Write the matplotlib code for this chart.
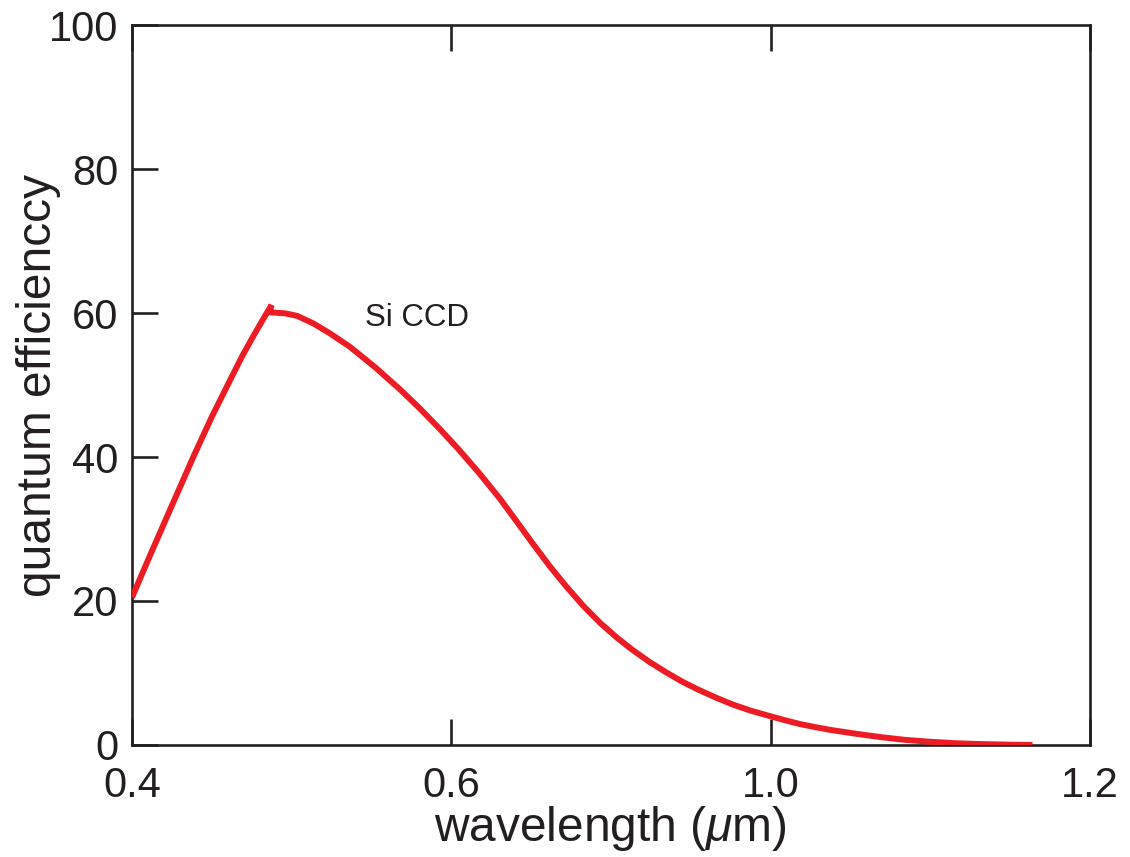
import matplotlib
matplotlib.use("Agg")
import matplotlib.pyplot as plt

plt.rcParams["font.family"] = ["Liberation Sans", "DejaVu Sans"]
plt.rcParams["mathtext.fontset"] = "custom"
plt.rcParams["mathtext.rm"] = "Liberation Sans"
plt.rcParams["mathtext.it"] = "Liberation Sans:italic"

# Quantum efficiency curve of a silicon CCD (wavelength in micrometres, QE in %)
wavelength = [0.400, 0.415, 0.430, 0.452, 0.467, 0.482, 0.492, 0.501, 0.509,
              0.5165, 0.5150, 0.528, 0.538, 0.552, 0.565, 0.582, 0.603, 0.624,
              0.640, 0.657, 0.672, 0.690, 0.707, 0.721, 0.735, 0.749, 0.763,
              0.777, 0.791, 0.805, 0.818, 0.832, 0.847, 0.860, 0.874, 0.888,
              0.902, 0.917, 0.933, 0.945, 0.958, 0.970, 0.983, 1.005, 1.025,
              1.045, 1.066, 1.087, 1.108, 1.130, 1.152]
efficiency = [20.5, 26.3, 32.0, 40.3, 45.7, 50.7, 54.0, 56.7, 59.0,
              61.1, 60.1, 59.95, 59.6, 58.5, 57.2, 55.3, 52.47, 49.36,
              46.8, 43.9, 41.2, 37.75, 34.26, 31.1, 27.9, 24.8, 21.95,
              19.3, 16.95, 14.9, 13.2, 11.55, 10.0, 8.75, 7.6, 6.55,
              5.6, 4.75, 4.0, 3.45, 2.9, 2.5, 2.1, 1.55, 1.1,
              0.72, 0.45, 0.25, 0.13, 0.05, 0.0]

x_ticks = [0.4, 0.6667, 0.9333, 1.2]
x_tick_labels = ["0.4", "0.6", "1.0", "1.2"]
y_ticks = [0, 20, 40, 60, 80, 100]

ink = "#231F20"
red = "#ED1C24"

fig = plt.figure(figsize=(11.30, 8.57), dpi=100)
ax = fig.add_axes([0.1168, 0.1307, 0.8478, 0.8401])

ax.plot(wavelength, efficiency, color=red, lw=4.3, solid_capstyle="butt",
        solid_joinstyle="miter", zorder=3)

ax.set_xlim(0.4, 1.2)
ax.set_ylim(0, 100)

ax.set_xticks(x_ticks)
ax.set_xticklabels(x_tick_labels)
ax.set_yticks(y_ticks)

for s in ax.spines.values():
    s.set_linewidth(1.9)
    s.set_color(ink)

ax.tick_params(axis="both", direction="in", length=19, width=1.9,
               color=ink, labelcolor=ink, labelsize=30)
ax.tick_params(axis="x", top=True, pad=15)
ax.tick_params(axis="y", pad=10)

ax.text(0.5946, 59.3, "Si CCD", fontsize=22.5, color=ink, ha="left", va="center")

ax.set_xlabel(r"wavelength ($\mu$m)", fontsize=34.5, color=ink)
ax.set_ylabel("quantum efficienccy", fontsize=34.5, color=ink)
ax.xaxis.set_label_coords(0.499, -0.116)
ax.xaxis.label.set_va("center")
ax.yaxis.set_label_coords(-0.098, 0.5)
ax.yaxis.label.set_va("center")

fig.savefig("out.png", dpi=100)
